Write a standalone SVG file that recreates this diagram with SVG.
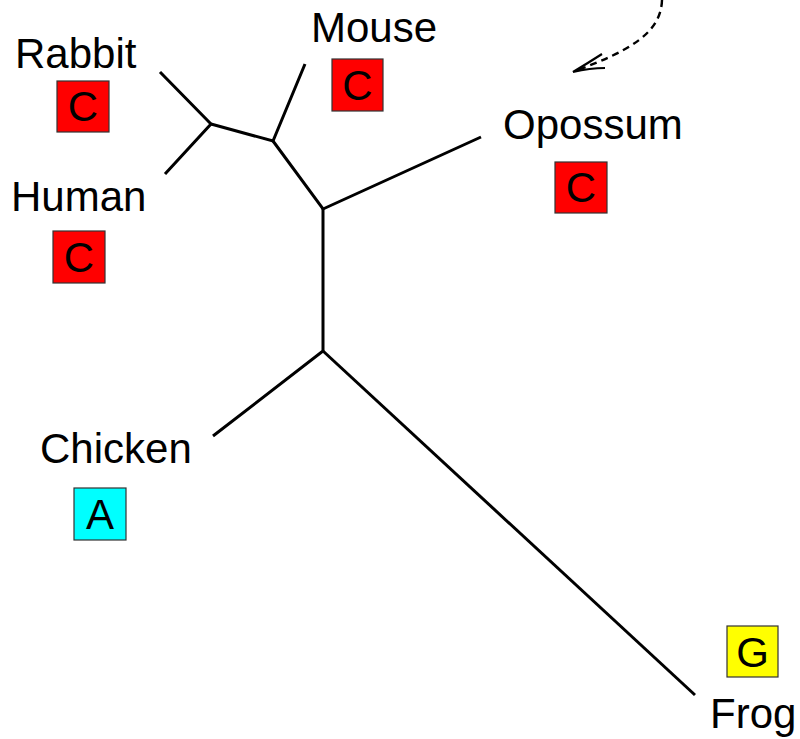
<svg xmlns="http://www.w3.org/2000/svg" width="800" height="739" viewBox="0 0 800 739">
<style>
.lbl{font-family:"Liberation Sans",Arial,sans-serif;font-size:42px;fill:#000}
.st{font-family:"Liberation Sans",Arial,sans-serif;font-size:42px;fill:#000;text-anchor:middle}
.box{stroke:#333;stroke-width:1.2}
.c{fill:#ff0000}
.a{fill:#00ffff}
.g{fill:#ffff00}
.edge{stroke:#000;stroke-width:3;fill:none;stroke-linecap:butt;stroke-linejoin:miter}
.dash{stroke:#000;stroke-width:2.4;fill:none;stroke-dasharray:7,5}
.head{stroke:#000;stroke-width:2.2;fill:none}
</style>
<rect width="800" height="739" fill="#fff"/>
<g id="connectors">
<polyline class="edge" points="160,72 211,124 165,174"/>
<polyline class="edge" points="211,124 273,141 305,64"/>
<polyline class="edge" points="273,141 323,209 481,137"/>
<polyline class="edge" points="323,209 323,351 213,436"/>
<line class="edge" x1="323" y1="351" x2="695" y2="695"/>
<path class="dash" d="M662,0 C661,35 625,52 578,70"/>
<path class="head" d="M602,54 Q588,63 573,72 Q590,68 605,68"/>
</g>
<g id="rabbit">
<text class="lbl" x="15" y="68">Rabbit</text>
<rect class="box c" x="57" y="81" width="52" height="51"/>
<text class="st" x="83" y="121">C</text>
</g>
<g id="mouse">
<text class="lbl" x="311" y="42">Mouse</text>
<rect class="box c" x="332" y="59" width="51" height="52"/>
<text class="st" x="357.5" y="100">C</text>
</g>
<g id="human">
<text class="lbl" x="11" y="211">Human</text>
<rect class="box c" x="53" y="231" width="52" height="52"/>
<text class="st" x="79" y="272">C</text>
</g>
<g id="opossum">
<text class="lbl" x="503" y="139">Opossum</text>
<rect class="box c" x="555" y="162" width="52" height="51"/>
<text class="st" x="581" y="202">C</text>
</g>
<g id="chicken">
<text class="lbl" x="40" y="463">Chicken</text>
<rect class="box a" x="74" y="488" width="52" height="52"/>
<text class="st" x="100" y="529">A</text>
</g>
<g id="frog">
<rect class="box g" x="727" y="626" width="51" height="51"/>
<text class="st" x="752.5" y="667">G</text>
<text class="lbl" x="710" y="728">Frog</text>
</g>
</svg>
